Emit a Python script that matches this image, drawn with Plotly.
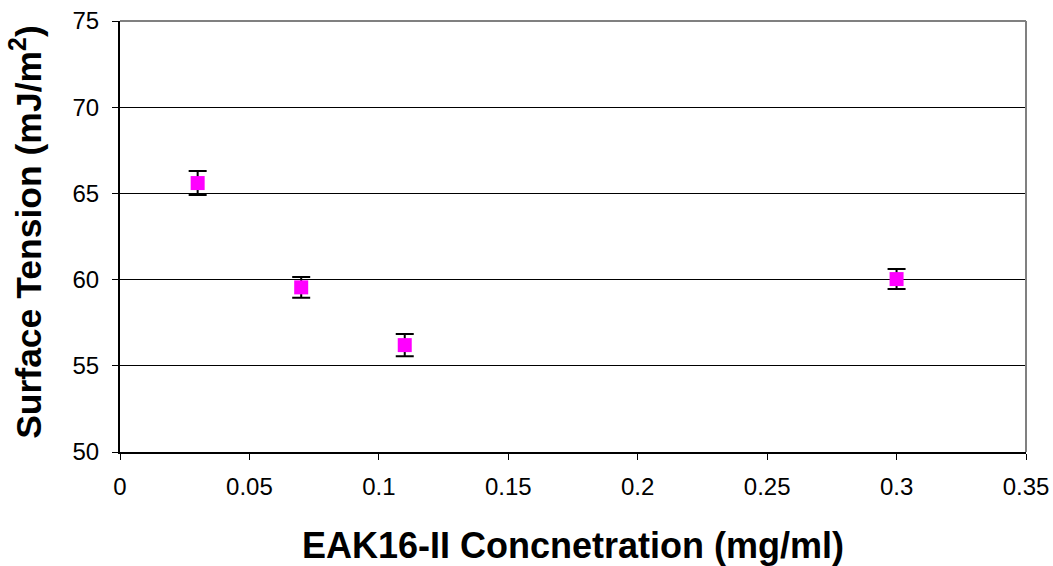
import plotly.graph_objects as go

concentration = [0.03, 0.07, 0.11, 0.30]
surface_tension = [65.6, 59.55, 56.2, 60.03]
error = [0.7, 0.6, 0.64, 0.58]

x_ticks = [0, 0.05, 0.1, 0.15, 0.2, 0.25, 0.3, 0.35]
y_ticks = [50, 55, 60, 65, 70, 75]

FONT = "Liberation Sans, Arial, sans-serif"

fig = go.Figure()
fig.add_trace(go.Scatter(
    x=concentration, y=surface_tension, mode="markers",
    marker=dict(symbol="square", size=14, color="#FF00FF", line=dict(width=0)),
    error_y=dict(type="data", array=error, visible=True, color="black", thickness=2, width=9),
    showlegend=False,
))

fig.update_layout(
    width=1053, height=566,
    margin=dict(l=120, r=27, t=21, b=114),
    paper_bgcolor="white", plot_bgcolor="white",
    font=dict(family=FONT, color="black", size=24),
    xaxis=dict(
        range=[0, 0.35], tickvals=x_ticks, ticktext=[f"{v:g}" for v in x_ticks],
        showgrid=False, zeroline=False, showline=True, linecolor="black", linewidth=2,
        ticks="outside", ticklen=6, tickwidth=1, tickcolor="black",
        tickfont=dict(size=24), ticklabelstandoff=6, automargin=False,
    ),
    yaxis=dict(
        range=[50, 75], tickvals=y_ticks, ticktext=[str(v) for v in y_ticks],
        showgrid=True, gridcolor="black", gridwidth=1, zeroline=False,
        showline=True, linecolor="black", linewidth=2,
        ticks="outside", ticklen=6, tickwidth=1, tickcolor="black",
        tickfont=dict(size=24), ticklabelstandoff=8, automargin=False,
    ),
    shapes=[
        dict(type="line", xref="paper", yref="paper", x0=0, x1=1, y0=1, y1=1,
             line=dict(color="#808080", width=2)),
        dict(type="line", xref="paper", yref="paper", x0=1, x1=1, y0=0, y1=1,
             line=dict(color="#808080", width=2)),
    ],
    annotations=[
        dict(text="<b>EAK16-II Concnetration (mg/ml)</b>", xref="paper", yref="paper",
             x=0.5, y=-0.218, xanchor="center", yanchor="middle", showarrow=False,
             font=dict(size=36, family=FONT)),
        dict(text="<b>Surface Tension (mJ/m<sup>2</sup>)</b>", xref="paper", yref="paper",
             x=-0.103, y=0.51, xanchor="center", yanchor="middle", showarrow=False,
             textangle=-90, font=dict(size=35.5, family=FONT)),
    ],
)

fig.write_html("out.html")
